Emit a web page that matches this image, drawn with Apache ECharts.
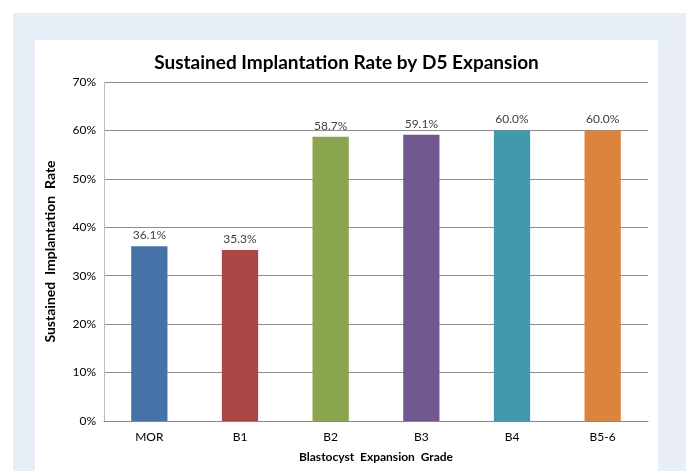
<!DOCTYPE html>
<html>
<head>
<meta charset="utf-8">
<style>
  html, body { margin: 0; padding: 0; background: #ffffff; }
  #frame { position: absolute; left: 13px; top: 13px; width: 673px; height: 458px; background: #e7eef8; }
  #chart { position: absolute; left: 35px; top: 40px; width: 623px; height: 431px; background: #ffffff; }
</style>
<script src="https://cdn.jsdelivr.net/npm/echarts@6/dist/echarts.min.js"></script>
</head>
<body>
<div id="frame"></div>
<div id="chart"></div>
<script>
// Expansion grades and their sustained implantation rates (%)
const categories = ['MOR', 'B1', 'B2', 'B3', 'B4', 'B5-6'];
const rates = [36.1, 35.3, 58.7, 59.1, 60.0, 60.0];
const barColors = ['#4572a7', '#aa4643', '#89a54e', '#71588f', '#4198af', '#db843d'];

const FONT = 'Lato, "Open Sans", sans-serif';
const chart = echarts.init(document.getElementById('chart'), null, { renderer: 'canvas' });

chart.setOption({
  animation: false,
  backgroundColor: '#ffffff',
  title: {
    text: 'Sustained Implantation Rate by D5 Expansion',
    left: 'center',
    top: 8,
    textStyle: { fontFamily: FONT, fontSize: 19, fontWeight: 'bold', color: '#000000' }
  },
  grid: { left: 67, right: 10, top: 42, bottom: 50 },
  xAxis: {
    type: 'category',
    data: categories,
    name: 'Blastocyst  Expansion  Grade',
    nameLocation: 'middle',
    nameGap: 30,
    nameTextStyle: { fontFamily: FONT, fontSize: 12, fontWeight: 'bold', color: '#000000' },
    axisLine: { lineStyle: { color: '#888888', width: 1 } },
    axisTick: { show: false },
    axisLabel: { fontFamily: FONT, fontSize: 12, color: '#000000', margin: 10 }
  },
  yAxis: {
    type: 'value',
    min: 0,
    max: 70,
    interval: 10,
    name: 'Sustained  Implantation  Rate',
    nameLocation: 'middle',
    nameGap: 47,
    nameTextStyle: { fontFamily: FONT, fontSize: 14, fontWeight: 'bold', color: '#000000' },
    axisLine: { show: true, lineStyle: { color: '#bbbbbb', width: 1 } },
    axisTick: { show: false },
    axisLabel: { fontFamily: FONT, fontSize: 12, color: '#000000', margin: 8, formatter: '{value}%' },
    splitLine: { lineStyle: { color: '#8c8c8c', width: 1 } }
  },
  series: [{
    type: 'bar',
    data: rates.map((v, i) => ({ value: v, itemStyle: { color: barColors[i] } })),
    barWidth: '40%',
    label: {
      show: true,
      position: 'top',
      distance: 5,
      fontFamily: FONT,
      fontSize: 12,
      color: '#404040',
      formatter: p => p.value.toFixed(1) + '%'
    }
  }]
});
</script>
</body>
</html>
